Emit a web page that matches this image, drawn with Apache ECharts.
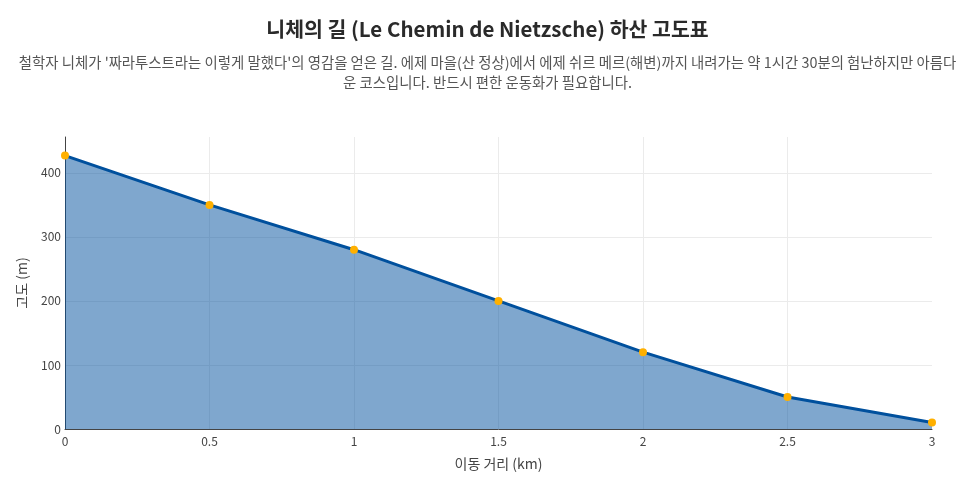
<!DOCTYPE html>
<html style="height:100%;width:100%;">
<head>
  <meta charset="utf-8">
  <title>니체의 길 하산 고도표</title>
  <script src="https://cdn.jsdelivr.net/npm/echarts@6/dist/echarts.min.js"></script>
</head>
<body style="margin:0px;height:100%;width:100%;background:#fff;">
  <div id="main" style="width:975px;height:496px"></div>
  <script type="text/javascript" charset="utf-8">
    // 데이터
    var distance = [0, 0.5, 1, 1.5, 2, 2.5, 3]; // km
    var altitude = [427, 350, 280, 200, 120, 50, 10]; // m

    var titleText = '니체의 길 (Le Chemin de Nietzsche) 하산 고도표';
    var subText = "철학자 니체가 '짜라투스트라는 이렇게 말했다'의 영감을 얻은 길. 에제 마을(산 정상)에서 에제 쉬르 메르(해변)까지 내려가는 약 1시간 30분의 험난하지만 아름다\n운 코스입니다. 반드시 편한 운동화가 필요합니다.";

    var fontFamily = '"Noto Sans CJK KR", "Noto Sans", sans-serif';

    var points = distance.map(function (d, i) { return [d, altitude[i]]; });

    var myChart = echarts.init(document.getElementById('main'));

    var option = {
      backgroundColor: '#fff',
      textStyle: { fontFamily: fontFamily },
      title: {
        text: titleText,
        subtext: subText,
        left: 'center',
        top: 14,
        itemGap: 13,
        textStyle: {
          fontSize: 20.5,
          fontWeight: 'bold',
          color: '#2a2a2a',
          fontFamily: fontFamily
        },
        subtextStyle: {
          fontSize: 14.4,
          color: '#555',
          lineHeight: 20,
          align: 'center',
          fontFamily: fontFamily
        }
      },
      grid: {
        left: 65,
        right: 43,
        top: 137,
        bottom: 67,
        containLabel: false
      },
      xAxis: {
        type: 'value',
        min: 0,
        max: 3,
        interval: 0.5,
        name: '이동 거리 (km)',
        nameLocation: 'middle',
        nameGap: 28,
        nameTextStyle: { fontSize: 14, color: '#444' },
        axisLine: { show: true, lineStyle: { color: '#444', width: 1 } },
        axisTick: { show: false },
        axisLabel: { fontSize: 12, color: '#444', margin: 6 },
        splitLine: { show: true, showMaxLine: false, lineStyle: { color: '#ebebeb', width: 1 } }
      },
      yAxis: {
        type: 'value',
        min: 0,
        max: 456,
        interval: 100,
        name: '고도 (m)',
        nameLocation: 'middle',
        nameGap: 36,
        nameRotate: 90,
        nameTextStyle: { fontSize: 14, color: '#444' },
        axisLine: { show: true, lineStyle: { color: '#444', width: 1 } },
        axisTick: { show: false },
        axisLabel: { fontSize: 12, color: '#444', margin: 4, showMaxLabel: false },
        splitLine: { show: true, showMaxLine: false, lineStyle: { color: '#ebebeb', width: 1 } }
      },
      series: [{
        name: '고도',
        type: 'line',
        data: points,
        symbol: 'circle',
        symbolSize: 8,
        smooth: false,
        lineStyle: { color: '#00509d', width: 3 },
        itemStyle: { color: '#ffb000', borderWidth: 0 },
        areaStyle: { color: 'rgba(0, 80, 157, 0.5)', opacity: 1, origin: 'start' },
        clip: false,
        z: 3
      }]
    };

    myChart.setOption(option, true);
  </script>
</body>
</html>
